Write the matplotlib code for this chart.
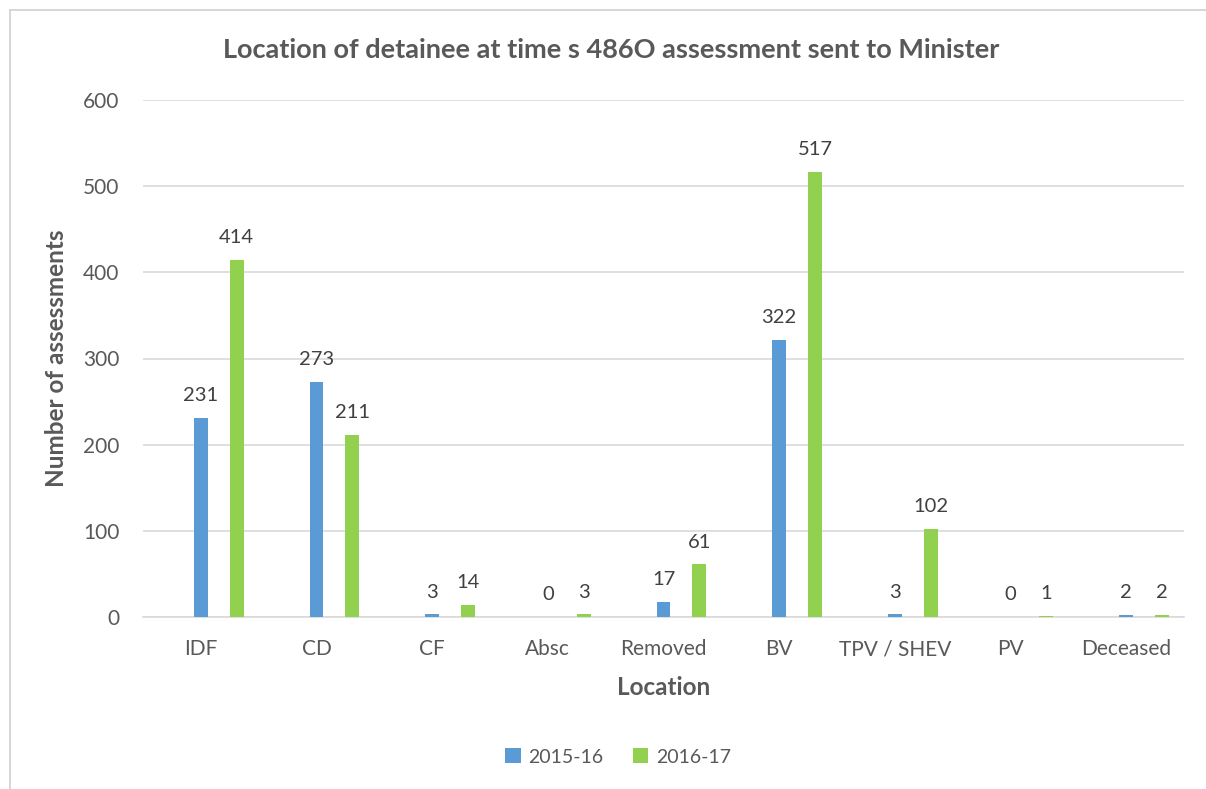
import numpy as np
import matplotlib.pyplot as plt
from matplotlib.lines import Line2D

plt.rcParams['font.family'] = ['Lato', 'DejaVu Sans']

# data
locations = ['IDF', 'CD', 'CF', 'Absc', 'Removed', 'BV', 'TPV / SHEV', 'PV', 'Deceased']
series_names = ['2015-16', '2016-17']
values_1516 = [231, 273, 3, 0, 17, 322, 3, 0, 2]
values_1617 = [414, 211, 14, 3, 61, 517, 102, 1, 2]
y_ticks = [0, 100, 200, 300, 400, 500, 600]

blue = '#5B9BD5'
green = '#92D050'
text_col = '#595959'
grid_col = '#D9D9D9'

fig = plt.figure(figsize=(12.06, 7.89), dpi=100)
ax = fig.add_axes([143 / 1206, 1 - 617 / 789, (1184 - 143) / 1206, (617 - 100) / 789])

x = np.arange(len(locations))
width = 0.121
offset = 0.311

bars1 = ax.bar(x, values_1516, width, color=blue, label=series_names[0], zorder=3)
bars2 = ax.bar(x + offset, values_1617, width, color=green, label=series_names[1], zorder=3)

for bars, vals in ((bars1, values_1516), (bars2, values_1617)):
    for b, v in zip(bars, vals):
        ax.annotate(str(v), (b.get_x() + b.get_width() / 2, v),
                    xytext=(0, 10), textcoords='offset points',
                    ha='center', va='bottom', fontsize=14.5, color='#404040')

ax.set_xlim(-0.5, len(locations) - 0.5)
ax.set_ylim(0, 600)
ax.set_yticks(y_ticks)
ax.set_xticks(x)
ax.set_xticklabels(locations)
ax.tick_params(axis='both', length=0, labelsize=15, colors=text_col)
ax.tick_params(axis='x', pad=16)
ax.tick_params(axis='y', pad=17)

ax.yaxis.grid(True, color=grid_col, linewidth=1.2, zorder=0)
for s in ['top', 'right', 'left']:
    ax.spines[s].set_visible(False)
ax.spines['bottom'].set_color(grid_col)
ax.spines['bottom'].set_linewidth(1.2)

ax.set_xlabel('Location', fontsize=17.5, fontweight='bold', color=text_col, labelpad=12)
ax.set_ylabel('Number of assessments', fontsize=17.5, fontweight='bold', color=text_col, labelpad=11)

fig.text(611 / 1206, 1 - 50 / 789, 'Location of detainee at time s 486O assessment sent to Minister',
         ha='center', va='center', fontsize=19.5, fontweight='bold', color=text_col)

fig.legend(handles=[bars1, bars2], labels=series_names, loc='center',
           bbox_to_anchor=(618 / 1206, 1 - 757 / 789), ncol=2, frameon=False,
           fontsize=14, labelcolor=text_col, handlelength=0.8, handleheight=0.8,
           columnspacing=1.5, handletextpad=0.4)

# outer chart frame (left and top edges visible in the reference)
fig.add_artist(Line2D([10 / 1206, 10 / 1206], [0, 1 - 10 / 789], color='#D0D0D0', lw=1.2))
fig.add_artist(Line2D([10 / 1206, 1], [1 - 10 / 789, 1 - 10 / 789], color='#D0D0D0', lw=1.2))

fig.savefig('out.png', dpi=100, facecolor='white')
